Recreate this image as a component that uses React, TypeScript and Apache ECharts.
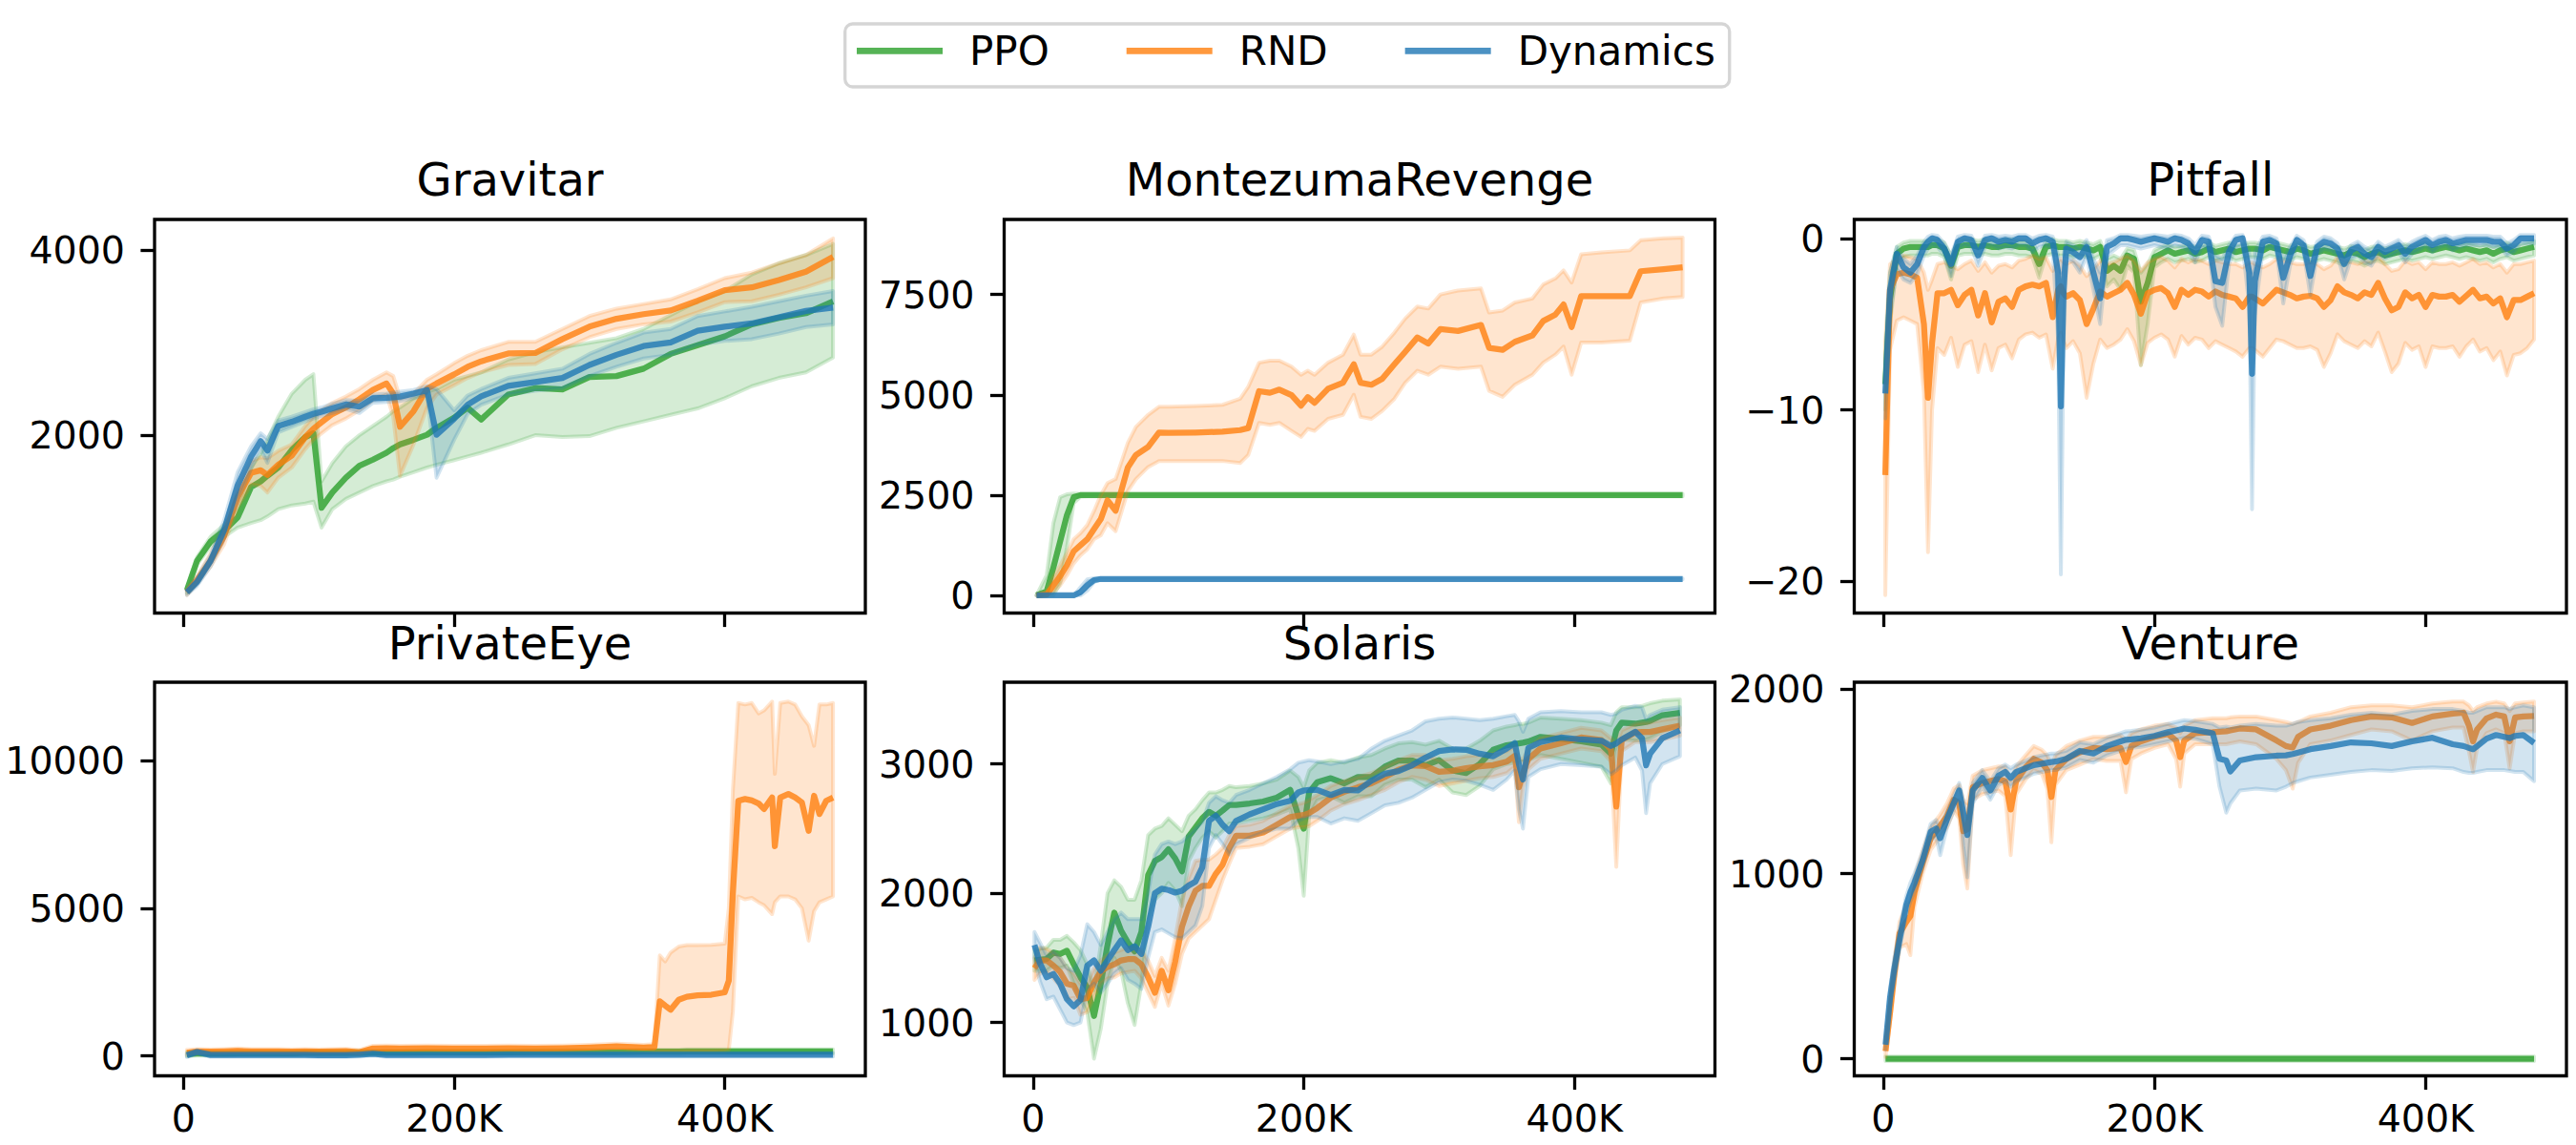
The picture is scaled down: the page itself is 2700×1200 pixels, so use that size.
import React, { useEffect, useRef } from "react";
import * as echarts from "echarts";

// ---------------- data (x in thousands of frames) ----------------
const METHODS = ["PPO", "RND", "Dynamics"];
const X_TICKS = [0, 200, 400];
const X_RANGE = [-21.4, 503.9];

// Gravitar
const GRAV_X = [2.5,10,20,30,40,50,57,62,70,80, 90,96,102,110,120,130,140,150,155,160, 170,180,187,200,210,220,240,260,280,300, 320,340,360,380,400,420,440,460,480];
const G_PPO = [322,640,850,965,1110,1440,1500,1560,1650,1840, 1980,2020,1215,1380,1540,1670,1735,1810,1860,1900, 1950,2005,2080,2190,2297,2170,2440,2510,2495,2630, 2640,2720,2880,2975,3070,3200,3270,3320,3448];
const G_PPO_HI = [350,680,900,1030,1220,1650,1800,1950,2200,2450, 2600,2660,1500,1700,1880,2000,2100,2200,2260,2300, 2400,2470,2500,2600,2640,2680,2820,2900,2950,3000, 3050,3150,3300,3450,3560,3740,3860,3950,4070];
const G_PPO_LO = [290,600,800,900,1000,1050,1080,1120,1200,1240, 1260,1280,1000,1200,1310,1380,1450,1500,1520,1550, 1600,1650,1680,1730,1770,1810,1900,2000,1980,1990, 2080,2150,2220,2290,2400,2530,2620,2680,2840];
const G_RND = [300,430,640,910,1330,1593,1620,1570,1680,1780, 1980,2070,2140,2230,2300,2390,2490,2560,2450,2091, 2260,2503,2560,2658,2740,2800,2885,2890,3040,3175, 3260,3310,3350,3455,3570,3600,3680,3770,3930];
const G_RND_HI = [330,470,720,1000,1450,1720,1760,1750,1830,1900, 2100,2200,2270,2350,2420,2500,2600,2680,2640,2400, 2450,2600,2660,2780,2860,2920,3010,3010,3150,3290, 3370,3420,3470,3580,3700,3760,3860,3950,4130];
const G_RND_LO = [270,390,580,820,1220,1470,1450,1380,1540,1650, 1850,1950,2020,2110,2180,2270,2380,2440,2200,1560, 1900,2300,2440,2540,2620,2680,2760,2770,2930,3060, 3150,3200,3230,3330,3440,3450,3520,3600,3700];
const G_DYN = [300,410,640,975,1455,1770,1936,1833,2100,2145, 2200,2230,2255,2290,2332,2310,2400,2405,2410,2418, 2450,2486,2005,2177,2330,2420,2535,2575,2620,2760, 2870,2965,3005,3130,3175,3210,3277,3345,3380];
const G_DYN_HI = [330,460,700,1080,1600,1880,2020,1960,2160,2200, 2250,2280,2300,2340,2380,2370,2440,2450,2460,2470, 2490,2530,2500,2270,2430,2500,2620,2670,2720,2880, 3000,3110,3150,3290,3340,3390,3450,3510,3560];
const G_DYN_LO = [270,370,580,880,1300,1640,1850,1700,2030,2090, 2150,2180,2210,2240,2285,2240,2350,2360,2365,2370, 2400,2440,1540,1950,2230,2330,2440,2480,2510,2640, 2740,2830,2870,2980,3020,3040,3100,3170,3200];

// MontezumaRevenge
const M_X = [2.5,10,15,20,25,30,35,40,45,50, 55,61,70,76,85,93,100,120,140,153, 159,167,175,182,191,198,203,208,218,229, 237,242,250,258,267,275,284,292,301,314, 331,337,347,356,369,377,386,392,398,405, 420,441,449,466,480];
const M_PPO = [0,100,700,1350,2000,2450,2500,2500,2500,2500, 2500,2500,2500,2500,2500,2500,2500,2500,2500,2500, 2500,2500,2500,2500,2500,2500,2500,2500,2500,2500, 2500,2500,2500,2500,2500,2500,2500,2500,2500,2500, 2500,2500,2500,2500,2500,2500,2500,2500,2500,2500, 2500,2500,2500,2500,2500];
const M_PPO_HI = [0,500,1800,2450,2520,2540,2530,2530,2530,2530, 2530,2530,2530,2530,2530,2530,2530,2530,2530,2530, 2530,2530,2530,2530,2530,2530,2530,2530,2530,2530, 2530,2530,2530,2530,2530,2530,2530,2530,2530,2530, 2530,2530,2530,2530,2530,2530,2530,2530,2530,2530, 2530,2530,2530,2530,2530];
const M_PPO_LO = [0,0,0,300,1200,2300,2460,2470,2470,2470, 2470,2470,2470,2470,2470,2470,2470,2470,2470,2470, 2470,2470,2470,2470,2470,2470,2470,2470,2470,2470, 2470,2470,2470,2470,2470,2470,2470,2470,2470,2470, 2470,2470,2470,2470,2470,2470,2470,2470,2470,2470, 2470,2470,2470,2470,2470];
const M_RND = [0,20,250,480,750,1100,1250,1400,1650,1900, 2370,2110,3190,3500,3700,4060,4050,4060,4080,4120, 4170,5090,5050,5130,4990,4730,4940,4800,5150,5300, 5760,5300,5250,5400,5760,6070,6430,6280,6640,6590, 6740,6170,6120,6320,6480,6840,7000,7250,6690,7460, 7460,7460,8080,8130,8180];
const M_RND_HI = [0,100,450,750,1050,1400,1550,1750,2100,2500, 2800,2900,3800,4200,4500,4700,4700,4720,4750,4900, 5200,5800,5850,5850,5700,5500,5600,5500,5800,6000, 6500,6000,6000,6200,6550,6900,7200,7150,7500,7600, 7650,7050,7100,7300,7400,7750,7900,8100,7800,8500, 8550,8600,8850,8900,8920];
const M_RND_LO = [0,0,80,250,500,800,1000,1150,1400,1500, 1800,1600,2600,2900,3200,3350,3350,3350,3350,3300, 3500,4300,4250,4300,4100,3950,4150,4100,4400,4500, 5000,4450,4400,4600,4900,5300,5600,5500,5700,5650, 5700,5100,4950,5250,5500,5800,6000,6200,5500,6300, 6300,6350,7300,7400,7440];
const M_DYN = [0,0,0,0,0,0,80,250,380,410, 410,410,410,410,410,410,410,410,410,410, 410,410,410,410,410,410,410,410,410,410, 410,410,410,410,410,410,410,410,410,410, 410,410,410,410,410,410,410,410,410,410, 410,410,410,410,410];
const M_DYN_HI = [0,0,0,0,0,0,200,400,430,425, 425,425,425,425,425,425,425,425,425,425, 425,425,425,425,425,425,425,425,425,425, 425,425,425,425,425,425,425,425,425,425, 425,425,425,425,425,425,425,425,425,425, 425,425,425,425,425];
const M_DYN_LO = [0,0,0,0,0,0,0,120,330,400, 400,400,400,400,400,400,400,400,400,400, 400,400,400,400,400,400,400,400,400,400, 400,400,400,400,400,400,400,400,400,400, 400,400,400,400,400,400,400,400,400,400, 400,400,400,400,400];

// Pitfall
const P_X = [1.5,5,10,15,20,25,30,33,36,40, 45,50,55,60,65,70,75,80,85,90, 95,100,105,110,115,120,125,129,131,133, 135,140,145,150,155,160,165,170,175,180, 185,190,195,200,205,210,215,220,225,230, 235,240,245,250,255,260,265,270,272,274, 280,285,290,295,300,305,310,315,320,325, 330,335,340,345,350,355,360,365,370,375, 380,385,390,395,400,405,410,415,420,425, 430,435,440,445,450,455,460,465,470,475, 480];
const P_PPO = [-8.5,-3.5,-0.9,-0.6,-0.5,-0.5,-0.5,-0.5,-0.4,-0.4, -0.6,-1.6,-0.5,-0.4,-0.4,-0.5,-0.4,-0.5,-0.5,-0.4, -0.4,-0.5,-0.5,-0.6,-1.5,-0.5,-0.4,-0.5,-0.5,-0.5, -0.5,-0.6,-0.5,-0.6,-0.7,-0.5,-1.9,-1.6,-1.9,-1.0, -1.2,-3.7,-2.6,-1.1,-0.9,-0.7,-0.9,-0.8,-0.7,-0.9, -0.8,-0.6,-0.8,-0.7,-0.6,-0.8,-0.7,-0.6,-0.6,-0.6, -0.7,-0.5,-0.6,-0.7,-0.8,-0.6,-0.7,-0.9,-0.8,-0.7, -0.8,-0.9,-1.0,-0.8,-0.9,-1.1,-0.9,-0.8,-1.0,-0.9, -0.8,-0.7,-0.8,-0.7,-0.6,-0.7,-0.6,-0.5,-0.6,-0.7, -0.6,-0.7,-0.8,-0.7,-0.9,-0.7,-0.6,-0.8,-0.7,-0.6, -0.5];
const P_PPO_HI = [-6.5,-2.0,-0.5,-0.25,-0.15,-0.15,-0.15,-0.15,-0.05,-0.05, -0.25,-1.0,-0.15,-0.05,-0.05,-0.15,-0.05,-0.15,-0.15,-0.05, -0.05,-0.15,-0.15,-0.25,-0.9,-0.15,-0.05,-0.15,-0.15,-0.15, -0.15,-0.25,-0.15,-0.25,-0.35,-0.15,-1.2,-1.0,-1.2,-0.6, -0.7,-2.0,-1.5,-0.7,-0.5,-0.35,-0.5,-0.45,-0.35,-0.5, -0.45,-0.25,-0.45,-0.35,-0.25,-0.45,-0.35,-0.25,-0.25,-0.25, -0.35,-0.15,-0.25,-0.35,-0.45,-0.25,-0.35,-0.5,-0.45,-0.35, -0.45,-0.5,-0.6,-0.45,-0.5,-0.7,-0.5,-0.45,-0.6,-0.5, -0.45,-0.35,-0.45,-0.35,-0.25,-0.35,-0.25,-0.15,-0.25,-0.35, -0.25,-0.35,-0.45,-0.35,-0.5,-0.35,-0.25,-0.45,-0.35,-0.25, -0.15];
const P_PPO_LO = [-10.0,-5.0,-1.5,-1.1,-1.0,-1.0,-1.0,-1.0,-0.9,-0.9, -1.1,-2.4,-1.0,-0.9,-0.9,-1.0,-0.9,-1.0,-1.0,-0.9, -0.9,-1.0,-1.0,-1.1,-2.3,-1.0,-0.9,-1.0,-1.0,-1.0, -1.0,-1.1,-1.0,-1.1,-1.2,-1.0,-2.8,-2.4,-3.0,-1.6, -2.0,-7.4,-5.0,-1.7,-1.4,-1.2,-1.4,-1.3,-1.2,-1.4, -1.3,-1.1,-1.3,-1.2,-1.1,-1.3,-1.2,-1.1,-1.1,-1.1, -1.2,-1.0,-1.1,-1.2,-1.3,-1.1,-1.2,-1.4,-1.3,-1.2, -1.3,-1.4,-1.6,-1.3,-1.4,-1.6,-1.4,-1.3,-1.5,-1.4, -1.3,-1.2,-1.3,-1.2,-1.1,-1.2,-1.1,-1.0,-1.1,-1.2, -1.1,-1.2,-1.3,-1.2,-1.4,-1.2,-1.1,-1.3,-1.2,-1.1, -1.0];
const P_RND = [-13.8,-3.0,-2.1,-2.0,-2.1,-2.3,-5.0,-9.3,-6.1,-3.2, -3.2,-3.0,-3.9,-3.3,-3.0,-4.5,-3.2,-4.9,-3.7,-3.5, -4.0,-3.0,-2.8,-2.7,-2.8,-2.6,-4.6,-3.0,-2.8,-3.2, -3.4,-3.2,-3.6,-5.0,-4.1,-3.1,-3.4,-3.2,-3.0,-2.6, -3.3,-4.4,-3.2,-3.0,-2.9,-3.2,-4.0,-3.0,-3.3,-3.0, -3.1,-3.4,-3.1,-3.3,-3.4,-3.5,-4.0,-3.4,-3.4,-3.5, -3.8,-3.4,-3.0,-3.15,-3.3,-3.5,-3.4,-3.35,-3.5,-4.0, -3.6,-2.8,-3.15,-3.3,-3.5,-3.15,-3.3,-2.6,-3.5,-4.2, -4.0,-3.15,-3.5,-3.3,-4.0,-3.3,-3.4,-3.4,-3.3,-3.7, -3.35,-3.0,-3.5,-3.4,-3.8,-3.5,-4.6,-3.6,-3.6,-3.4, -3.2];
const P_RND_HI = [-6.0,-1.5,-1.2,-1.0,-1.1,-1.2,-2.0,-3.0,-2.4,-1.5, -1.4,-1.6,-1.8,-1.5,-1.3,-1.9,-1.4,-2.0,-1.6,-1.5, -1.7,-1.3,-1.2,-1.0,-1.2,-1.1,-1.9,-1.3,-1.2,-1.4, -1.5,-1.3,-1.6,-2.2,-1.8,-1.3,-1.5,-1.4,-1.2,-1.0, -1.3,-1.9,-1.4,-1.2,-1.1,-1.3,-1.7,-1.2,-1.4,-1.2, -1.3,-1.5,-1.3,-1.4,-1.5,-1.5,-1.7,-1.4,-1.4,-1.5, -1.7,-1.5,-1.2,-1.3,-1.4,-1.5,-1.5,-1.4,-1.5,-1.8, -1.6,-1.1,-1.3,-1.4,-1.5,-1.3,-1.4,-1.0,-1.5,-1.9, -1.8,-1.3,-1.5,-1.4,-1.8,-1.4,-1.5,-1.5,-1.4,-1.6, -1.4,-1.2,-1.5,-1.4,-1.7,-1.5,-2.0,-1.5,-1.5,-1.4, -1.3];
const P_RND_LO = [-20.8,-6.5,-4.8,-4.6,-4.8,-5.0,-9.0,-18.3,-10.0,-6.4, -6.8,-5.8,-7.5,-6.2,-6.0,-7.8,-6.2,-7.7,-6.4,-6.2, -7.0,-5.9,-5.6,-5.5,-5.8,-5.6,-7.6,-5.8,-5.5,-6.0, -6.4,-6.0,-6.7,-9.3,-7.3,-5.9,-6.4,-6.2,-5.9,-5.3, -6.0,-7.4,-6.1,-5.8,-5.6,-5.9,-6.9,-5.7,-6.2,-5.8, -5.9,-6.4,-6.0,-6.2,-6.4,-6.6,-6.9,-6.4,-6.4,-6.5, -6.9,-6.4,-5.9,-6.0,-6.2,-6.4,-6.4,-6.3,-6.5,-7.5, -6.7,-5.6,-6.0,-6.2,-6.4,-6.0,-6.3,-5.5,-6.6,-7.8, -7.3,-6.1,-6.5,-6.3,-7.5,-6.3,-6.4,-6.4,-6.3,-6.9, -6.3,-5.9,-6.6,-6.4,-7.1,-6.6,-8.0,-6.8,-6.7,-6.4, -5.9];
const P_DYN = [-9.05,-3.0,-0.9,-1.7,-2.0,-1.5,-0.5,-0.2,0,-0.1, -0.6,-1.5,-0.2,0,-0.1,-1.0,-0.1,0,-0.2,-0.1, -0.2,0,0,-0.3,-0.1,0,-0.2,-2.0,-9.8,-3.0, -0.6,-0.8,-1.1,-0.5,-2.0,-3.5,-0.5,-0.3,0,0, -0.1,-0.2,-0.1,0,-0.1,-0.2,0,-0.1,-0.3,-0.8, -0.1,-0.2,-2.5,-2.6,-0.8,-0.1,0,-2.0,-7.9,-2.5, -0.2,-0.1,-0.3,-2.3,-1.0,-0.1,-0.4,-2.2,-0.5,-0.2, -0.3,-0.6,-1.5,-0.7,-0.5,-0.9,-1.1,-0.5,-0.8,-0.6, -0.4,-0.9,-0.5,-0.3,-0.1,-0.4,-0.2,-0.1,-0.3,-0.2, -0.1,-0.1,-0.1,-0.1,-0.2,-0.2,-0.6,-0.4,0,0, 0];
const P_DYN_HI = [-7.5,-2.0,-0.5,-1.2,-1.5,-1.0,-0.2,0.1,0.2,0.15, -0.3,-1.0,0.1,0.2,0.15,-0.6,0.15,0.2,0.1,0.15, 0.1,0.2,0.2,0,0.15,0.2,0.1,-1.0,-2.0,-1.0, -0.2,-0.4,-0.6,-0.1,-1.2,-2.0,-0.1,0,0.2,0.2, 0.15,0.1,0.15,0.2,0.15,0.1,0.2,0.15,0,-0.4, 0.15,0.1,-1.0,-1.2,-0.4,0.15,0.2,-0.8,-2.0,-0.8, 0.1,0.15,0,-1.2,-0.5,0.15,-0.1,-1.2,-0.2,0.1, 0,-0.3,-1.0,-0.4,-0.2,-0.5,-0.7,-0.2,-0.5,-0.3, -0.1,-0.5,-0.2,0,0.15,-0.1,0.1,0.15,0,0.1, 0.15,0.15,0.15,0.15,0.1,0.1,-0.3,-0.1,0.2,0.2, 0.2];
const P_DYN_LO = [-10.5,-4.5,-1.8,-2.4,-2.6,-2.1,-1.0,-0.6,-0.4,-0.5, -1.0,-2.2,-0.6,-0.4,-0.5,-1.6,-0.5,-0.4,-0.6,-0.5, -0.6,-0.4,-0.4,-0.8,-0.5,-0.4,-0.6,-6.0,-19.6,-6.0, -1.2,-1.4,-2.0,-1.0,-3.0,-5.0,-1.0,-0.7,-0.4,-0.4, -0.5,-0.6,-0.5,-0.4,-0.5,-0.6,-0.4,-0.5,-0.7,-1.4, -0.5,-0.6,-4.0,-5.1,-1.5,-0.5,-0.4,-4.0,-15.8,-4.5, -0.6,-0.5,-0.7,-3.8,-1.6,-0.5,-0.8,-3.3,-1.0,-0.6, -0.7,-1.0,-2.4,-1.2,-1.0,-1.4,-1.6,-0.9,-1.2,-1.0, -0.8,-1.4,-0.9,-0.7,-0.4,-0.8,-0.5,-0.4,-0.7,-0.5, -0.4,-0.4,-0.4,-0.4,-0.5,-0.5,-1.0,-0.8,-0.3,-0.3, -0.3];

// PrivateEye
const PE_X = [2.5,10,20,30,40,50,60,70,80,90, 100,110,120,130,140,150,160,180,200,220, 240,260,280,300,320,340,348,352,356,360, 366,372,380,390,400,403,406,410,415,420, 425,429,435,437,441,447,452,457,462,466, 470,475,480];
const PE_PPO = [60,80,80,80,90,90,90,90,90,100, 100,100,100,100,110,110,110,120,120,120, 120,130,130,130,130,140,140,140,140,140, 140,150,150,150,150,150,150,150,150,150, 150,150,150,150,150,150,150,150,150,150, 150,150,150];
const PE_PPO_HI = [130,150,150,150,160,160,160,160,160,170, 170,170,170,170,180,180,180,190,190,190, 190,200,200,200,200,210,210,210,210,210, 210,220,220,220,220,220,220,220,220,220, 220,220,220,220,220,220,220,220,220,220, 220,220,220];
const PE_PPO_LO = [-10,10,10,10,20,20,20,20,20,30, 30,30,30,30,40,40,40,50,50,50, 50,60,60,60,60,70,70,70,70,70, 70,80,80,80,80,80,80,80,80,80, 80,80,80,80,80,80,80,80,80,80, 80,80,80];
const PE_RND = [100,150,140,150,170,150,150,150,140,150, 140,150,160,120,250,260,250,260,250,250, 260,250,260,280,320,280,300,1850,1700,1560, 1900,2000,2050,2070,2150,2550,5500,8640,8700,8650, 8550,8360,8750,7100,8750,8870,8750,8580,7620,8810, 8190,8640,8750];
const PE_RND_HI = [200,230,220,230,250,230,230,230,220,230, 220,230,240,200,340,350,340,350,340,340, 350,340,350,370,410,370,400,3400,3200,3500, 3700,3750,3750,3760,3800,5000,9000,11950,11900,11950, 11600,11700,12000,9550,11950,12000,11900,11500,11200,10500, 11900,11900,11950];
const PE_RND_LO = [30,80,70,80,100,80,80,80,70,80, 70,80,90,50,170,180,170,180,170,170, 180,170,180,190,220,190,150,150,150,150, 150,150,150,150,160,200,1500,5400,5300,5350, 5200,5100,4800,5200,5400,5400,5300,5000,3900,4900, 5200,5300,5400];
const PE_DYN = [20,130,30,30,30,30,30,30,30,30, 20,20,20,40,70,30,30,30,30,30, 40,40,40,40,40,40,40,40,40,40, 40,40,40,40,40,40,40,40,40,40, 40,40,40,40,40,40,40,40,40,40, 40,40,40];
const PE_DYN_HI = [80,190,90,90,90,90,90,90,90,90, 80,80,80,100,130,90,90,90,90,90, 100,100,100,100,100,100,100,100,100,100, 100,100,100,100,100,100,100,100,100,100, 100,100,100,100,100,100,100,100,100,100, 100,100,100];
const PE_DYN_LO = [-40,70,-30,-30,-30,-30,-30,-30,-30,-30, -40,-40,-40,-20,10,-30,-30,-30,-30,-30, -20,-20,-20,-20,-20,-20,-20,-20,-20,-20, -20,-20,-20,-20,-20,-20,-20,-20,-20,-20, -20,-20,-20,-20,-20,-20,-20,-20,-20,-20, -20,-20,-20];

// Solaris
const S_X = [1,5,10,15,20,25,30,35,40,45, 50,55,60,65,70,75,80,85,90,95, 100,105,110,115,120,125,130,135,140,145, 150,160,170,180,190,196,200,204,210,220, 230,240,250,260,270,280,290,300,310,320, 330,340,350,356,359,362,366,375,390,405, 420,427,431,435,445,450,453,456,465,478];
const S_PPO = [1479,1485,1491,1540,1530,1555,1450,1350,1270,1050, 1300,1600,1850,1710,1620,1550,1700,2140,2250,2280, 2340,2270,2170,2440,2510,2580,2630,2600,2640,2683, 2683,2695,2710,2740,2800,2600,2500,2780,2860,2890, 2850,2900,2900,2980,3027,3027,2990,3030,2950,2930, 3000,3110,3145,3155,3160,3165,3174,3210,3195,3175, 3150,3080,3260,3320,3312,3320,3325,3334,3378,3396];
const S_PPO_HI = [1560,1570,1580,1640,1640,1670,1620,1560,1450,1250, 1600,2000,2100,2050,1950,1950,2100,2450,2500,2520, 2580,2530,2480,2600,2650,2720,2780,2780,2800,2830, 2820,2830,2850,2880,2950,2900,2820,2950,3010,3030, 3010,3050,3070,3120,3160,3170,3150,3180,3120,3120, 3180,3260,3290,3300,3310,3310,3320,3360,3350,3340, 3320,3300,3400,3440,3440,3450,3460,3470,3490,3500];
const S_PPO_LO = [1400,1400,1400,1440,1420,1440,1300,1180,1080,720, 950,1300,1500,1400,1150,980,1300,1800,1950,2000, 2080,2020,1900,2250,2350,2430,2480,2430,2480,2540, 2540,2560,2580,2610,2650,2350,1980,2600,2720,2750, 2700,2750,2750,2840,2880,2880,2820,2880,2780,2760, 2830,2960,3000,3010,3010,3020,3030,3070,3040,3010, 2980,2850,3100,3190,3180,3190,3190,3200,3250,3300];
const S_RND = [1420,1480,1480,1440,1390,1300,1285,1180,1190,1310, 1395,1430,1450,1480,1490,1491,1450,1350,1230,1400, 1250,1470,1740,1900,2020,2057,2057,2150,2220,2350, 2445,2445,2470,2530,2590,2600,2605,2620,2660,2740, 2785,2820,2850,2900,2955,2990,2985,2940,2948,2968, 2982,2992,3018,3064,2820,2930,3040,3120,3160,3205, 3185,3115,2671,3187,3245,3248,3248,3248,3268,3297];
const S_RND_HI = [1500,1580,1570,1540,1500,1420,1380,1300,1300,1420, 1480,1520,1540,1560,1580,1580,1560,1480,1360,1500, 1400,1650,1950,2120,2250,2260,2260,2300,2350,2450, 2520,2530,2560,2620,2680,2690,2700,2720,2760,2830, 2870,2900,2930,2980,3030,3070,3070,3030,3040,3060, 3070,3080,3100,3140,3050,3030,3120,3200,3240,3280, 3260,3200,3150,3260,3310,3320,3320,3320,3340,3360];
const S_RND_LO = [1330,1380,1390,1340,1280,1180,1190,1060,1080,1200, 1300,1340,1350,1380,1390,1400,1340,1230,1120,1300, 1130,1300,1530,1650,1700,1750,1800,1950,2100,2230, 2350,2360,2380,2440,2500,2510,2510,2520,2560,2640, 2690,2720,2760,2800,2860,2900,2880,2830,2850,2870, 2890,2900,2930,2980,2550,2820,2960,3040,3080,3120, 3100,3020,2204,3100,3170,3170,3170,3170,3190,3220];
const S_DYN = [1600,1460,1350,1375,1300,1180,1125,1175,1440,1480, 1400,1480,1560,1635,1560,1590,1530,1740,2000,2035, 2025,2005,2020,2060,2090,2200,2560,2600,2530,2480, 2560,2610,2650,2690,2715,2780,2795,2800,2800,2760, 2800,2795,2870,2925,2945,2990,3050,3100,3113,3110, 3080,3060,3120,3162,3000,2880,3125,3170,3205,3190, 3180,3140,3160,3190,3250,3200,2990,3080,3200,3260];
const S_DYN_HI = [1700,1620,1520,1550,1500,1420,1400,1520,1760,1700, 1600,1700,1800,1850,1800,1800,1800,2000,2300,2380, 2400,2380,2400,2450,2500,2550,2700,2750,2720,2700, 2760,2800,2850,2900,2960,3010,3020,3030,3020,3000, 3020,3040,3120,3180,3220,3260,3330,3350,3360,3350, 3340,3350,3370,3380,3330,3250,3350,3400,3410,3400, 3400,3380,3390,3420,3450,3440,3350,3380,3420,3440];
const S_DYN_LO = [1500,1320,1180,1200,1100,1000,980,1000,1250,1300, 1230,1300,1380,1420,1330,1300,1260,1500,1700,1720, 1690,1660,1650,1700,1750,1900,2350,2450,2380,2300, 2380,2430,2470,2500,2500,2560,2580,2590,2590,2540, 2580,2560,2620,2680,2700,2740,2800,2860,2880,2870, 2840,2800,2880,2950,2650,2500,2900,2960,3000,2990, 2980,2920,2950,2990,3050,2950,2620,2850,3000,3060];

// Venture
const V_X = [1.7,5,8,12,17,20,23,29,35,39, 42,47,52,56,59,62,66,73,79,85, 90,94,98,105,111,117,121,124,127,135, 145,155,165,175,179,183,190,200,210,216, 219,222,230,243,248,253,256,263,275,290, 297,302,306,315,330,345,360,375,390,405, 420,428,432,435,438,445,452,458,462,466, 472,480];
const V_PPO_X = [1.7, 480];
const V_PPO = [0, 0];
const V_PPO_HI = [12, 12];
const V_PPO_LO = [-12, -12];
const V_RND = [42,250,450,677,740,772,900,1060,1192,1230, 1260,1312,1400,1380,1230,1240,1467,1490,1501,1512, 1500,1347,1500,1575,1621,1600,1560,1415,1560,1620, 1656,1680,1673,1680,1604,1690,1715,1740,1755,1720, 1630,1720,1760,1765,1768,1770,1775,1785,1780,1720, 1690,1682,1740,1780,1800,1830,1850,1845,1815,1850, 1865,1870,1800,1716,1780,1840,1860,1850,1716,1845, 1850,1853];
const V_RND_HI = [80,300,520,740,830,860,980,1120,1250,1290, 1320,1380,1460,1480,1400,1380,1530,1560,1570,1580, 1580,1500,1580,1640,1690,1670,1640,1580,1640,1690, 1720,1740,1740,1750,1720,1760,1780,1800,1810,1790, 1760,1800,1830,1840,1840,1840,1845,1850,1850,1830, 1820,1810,1820,1850,1870,1900,1910,1910,1900,1920, 1930,1930,1910,1880,1900,1920,1930,1920,1880,1920, 1925,1930];
const V_RND_LO = [10,200,380,600,620,560,820,1000,1130,1170, 1200,1250,1340,1300,1050,920,1400,1430,1440,1450, 1420,1100,1430,1510,1560,1540,1460,1170,1480,1560, 1590,1620,1610,1610,1440,1620,1650,1680,1700,1620, 1470,1650,1700,1700,1700,1700,1705,1715,1700,1620, 1560,1460,1600,1700,1720,1750,1780,1770,1720,1770, 1790,1790,1660,1550,1680,1760,1780,1760,1570,1760, 1770,1770];
const V_DYN = [76,330,480,643,832,900,950,1072,1227,1244, 1192,1295,1381,1450,1330,1209,1450,1518,1450,1530, 1550,1518,1550,1570,1587,1595,1600,1604,1606,1621, 1664,1650,1690,1715,1724,1726,1732,1745,1765,1775, 1780,1785,1778,1759,1621,1612,1553,1612,1630,1638, 1640,1647,1655,1673,1690,1710,1705,1690,1716,1735, 1700,1690,1680,1673,1690,1730,1750,1740,1733,1745, 1750,1707];
const V_DYN_HI = [110,380,540,700,880,950,1000,1120,1270,1290, 1250,1340,1420,1490,1400,1300,1490,1560,1500,1570, 1590,1570,1590,1610,1630,1640,1645,1650,1650,1665, 1710,1700,1735,1760,1770,1772,1778,1790,1810,1820, 1825,1830,1825,1810,1790,1795,1790,1800,1810,1800, 1800,1810,1820,1830,1840,1860,1870,1860,1880,1890, 1890,1880,1870,1870,1880,1900,1900,1900,1890,1900, 1910,1900];
const V_DYN_LO = [50,280,420,590,780,850,900,1030,1180,1200, 1100,1250,1340,1400,1150,980,1380,1470,1400,1480, 1500,1470,1500,1520,1540,1550,1555,1560,1560,1575, 1615,1600,1640,1665,1675,1680,1685,1700,1715,1725, 1730,1735,1730,1700,1470,1330,1380,1450,1460,1450, 1470,1490,1500,1520,1535,1550,1560,1555,1570,1575, 1570,1550,1545,1545,1550,1560,1560,1560,1555,1550, 1550,1500];

type Band = { x?: number[]; mean: number[]; lo: number[]; hi: number[] };
type Panel = { title: string; x: number[]; yMin: number; yMax: number; yTicks: number[]; series: Band[] };

const PANELS: Panel[] = [
  { title: "Gravitar", x: GRAV_X, yMin: 75, yMax: 4335, yTicks: [2000, 4000], series: [
    { mean: G_PPO, lo: G_PPO_LO, hi: G_PPO_HI },
    { mean: G_RND, lo: G_RND_LO, hi: G_RND_HI },
    { mean: G_DYN, lo: G_DYN_LO, hi: G_DYN_HI } ] },
  { title: "MontezumaRevenge", x: M_X, yMin: -440, yMax: 9370, yTicks: [0, 2500, 5000, 7500], series: [
    { mean: M_PPO, lo: M_PPO_LO, hi: M_PPO_HI },
    { mean: M_RND, lo: M_RND_LO, hi: M_RND_HI },
    { mean: M_DYN, lo: M_DYN_LO, hi: M_DYN_HI } ] },
  { title: "Pitfall", x: P_X, yMin: -21.85, yMax: 1.1, yTicks: [-20, -10, 0], series: [
    { mean: P_PPO, lo: P_PPO_LO, hi: P_PPO_HI },
    { mean: P_RND, lo: P_RND_LO, hi: P_RND_HI },
    { mean: P_DYN, lo: P_DYN_LO, hi: P_DYN_HI } ] },
  { title: "PrivateEye", x: PE_X, yMin: -677, yMax: 12655, yTicks: [0, 5000, 10000], series: [
    { mean: PE_PPO, lo: PE_PPO_LO, hi: PE_PPO_HI },
    { mean: PE_RND, lo: PE_RND_LO, hi: PE_RND_HI },
    { mean: PE_DYN, lo: PE_DYN_LO, hi: PE_DYN_HI } ] },
  { title: "Solaris", x: S_X, yMin: 587, yMax: 3633, yTicks: [1000, 2000, 3000], series: [
    { mean: S_PPO, lo: S_PPO_LO, hi: S_PPO_HI },
    { mean: S_RND, lo: S_RND_LO, hi: S_RND_HI },
    { mean: S_DYN, lo: S_DYN_LO, hi: S_DYN_HI } ] },
  { title: "Venture", x: V_X, yMin: -92, yMax: 2035, yTicks: [0, 1000, 2000], series: [
    { x: V_PPO_X, mean: V_PPO, lo: V_PPO_LO, hi: V_PPO_HI },
    { mean: V_RND, lo: V_RND_LO, hi: V_RND_HI },
    { mean: V_DYN, lo: V_DYN_LO, hi: V_DYN_HI } ] },
];

// ---------------- styling / layout ----------------
const LINE_COLORS = ["rgba(44,160,44,0.8)", "rgba(255,127,14,0.8)", "rgba(31,119,180,0.8)"];
const BAND_COLORS = ["rgba(44,160,44,0.2)", "rgba(255,127,14,0.2)", "rgba(31,119,180,0.2)"];
const COL_LEFT = [162, 1052.5, 1943.5];
const COL_WIDTH = [745, 745, 746.5];
const ROW_TOP = [230, 715];
const ROW_HEIGHT = 412.5;
const TITLE_Y = [187.5, 674];
const FONT = "DejaVu Sans";
const TICK_FONT = 39.5;
const TITLE_FONT = 48;

const fmtY = (v: number) => (v < 0 ? "\u2212" + String(Math.abs(v)) : String(v));
const fmtX = (v: number) => (v === 0 ? "0" : v + "K");

function buildOption() {
  const grid: any[] = [];
  const xAxis: any[] = [];
  const yAxis: any[] = [];
  const series: any[] = [];
  const graphic: any[] = [];

  PANELS.forEach((p, i) => {
    const row = Math.floor(i / 3);
    const col = i % 3;
    const left = COL_LEFT[col];
    const width = COL_WIDTH[col];
    const top = ROW_TOP[row];
    grid.push({
      left, top, width, height: ROW_HEIGHT,
      show: true, borderColor: "#000", borderWidth: 3.3, backgroundColor: "transparent",
      containLabel: false,
    });
    xAxis.push({
      type: "value", gridIndex: i, min: X_RANGE[0], max: X_RANGE[1], position: "bottom",
      axisLine: { show: false, onZero: false }, splitLine: { show: false },
      axisTick: { show: true, inside: false, length: 14.6, lineStyle: { color: "#000", width: 3.3 }, customValues: X_TICKS },
      axisLabel: {
        show: row === 1, customValues: X_TICKS, formatter: fmtX, margin: 24,
        fontSize: TICK_FONT, fontFamily: FONT, color: "#000",
      },
    });
    yAxis.push({
      type: "value", gridIndex: i, min: p.yMin, max: p.yMax, position: "left",
      axisLine: { show: false, onZero: false }, splitLine: { show: false },
      axisTick: { show: true, inside: false, length: 14.6, lineStyle: { color: "#000", width: 3.3 }, customValues: p.yTicks },
      axisLabel: {
        show: true, customValues: p.yTicks, formatter: fmtY, margin: 31,
        fontSize: TICK_FONT, fontFamily: FONT, color: "#000",
      },
    });
    graphic.push({
      type: "text", x: left + width / 2, y: TITLE_Y[row], silent: true,
      style: {
        text: p.title, fontSize: TITLE_FONT, fontFamily: FONT, fill: "#000",
        align: "center", verticalAlign: "middle", textAlign: "center", textVerticalAlign: "middle",
      },
    });

    p.series.forEach((s, k) => {
      const xs = s.x || p.x;
      const n = Math.min(xs.length, s.mean.length, s.lo.length, s.hi.length);
      series.push({
        type: "custom", name: METHODS[k] + " band", coordinateSystem: "cartesian2d",
        xAxisIndex: i, yAxisIndex: i, silent: true, clip: true, z: 2 + 2 * k,
        data: [[xs[0], s.mean[0]]],
        encode: { x: 0, y: 1 },
        renderItem: (_params: any, api: any) => {
          const pts: number[][] = [];
          for (let j = 0; j < n; j++) pts.push(api.coord([xs[j], s.hi[j]]));
          for (let j = n - 1; j >= 0; j--) pts.push(api.coord([xs[j], s.lo[j]]));
          return {
            type: "polygon",
            shape: { points: pts },
            style: { fill: BAND_COLORS[k], stroke: BAND_COLORS[k], lineWidth: 4, lineJoin: "round" },
          };
        },
      });
      const data: number[][] = [];
      for (let j = 0; j < n; j++) data.push([xs[j], s.mean[j]]);
      series.push({
        type: "line", name: METHODS[k], xAxisIndex: i, yAxisIndex: i, data,
        symbol: "none", showSymbol: false, silent: true, clip: true, z: 3 + 2 * k,
        legendHoverLink: false,
        lineStyle: { color: LINE_COLORS[k], width: 6.25, join: "round", cap: "butt" },
        itemStyle: { color: LINE_COLORS[k] },
        emphasis: { disabled: true },
      });
    });
  });

  return {
    animation: false,
    backgroundColor: "#fff",
    textStyle: { fontFamily: FONT },
    grid, xAxis, yAxis, series, graphic,
    legend: {
      data: METHODS, selectedMode: false,
      left: 885.7, top: 25,
      orient: "horizontal",
      icon: "rect", itemWidth: 90, itemHeight: 6.7, itemGap: 81,
      padding: [7.3, 15, 16.7, 12.3],
      backgroundColor: "#fff", borderColor: "#d5d5d5", borderWidth: 3.3, borderRadius: 8,
      textStyle: { fontSize: 42, fontFamily: FONT, color: "#000", padding: [0, 0, 0, 23] },
    },
  };
}

export default function App() {
  const ref = useRef<HTMLDivElement>(null);
  useEffect(() => {
    document.body.style.margin = "0";
    if (!ref.current) return;
    const chart = echarts.init(ref.current, null, { renderer: "svg" });
    chart.setOption(buildOption() as any);
    return () => chart.dispose();
  }, []);
  return <div ref={ref} style={{ width: 2700, height: 1200, background: "#fff" }} />;
}
